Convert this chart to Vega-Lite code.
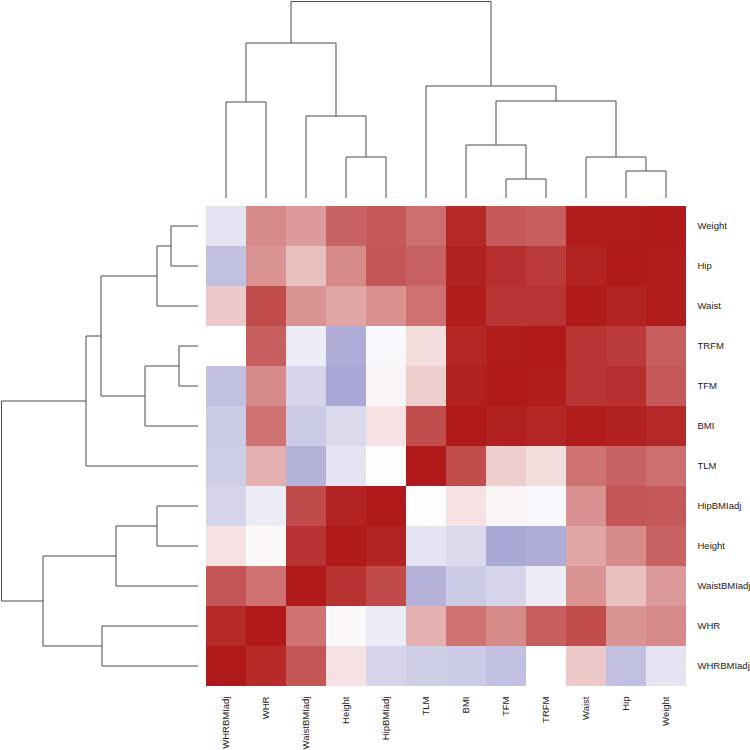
{
  "$schema": "https://vega.github.io/schema/vega-lite/v6.json",
  "padding": 0,
  "columns": 2,
  "spacing": 7,
  "config": {"view": {"stroke": null}},
  "datasets": {
    "tree": [
      {"node": "A", "pl": 0.5, "pr": 1.5, "hl": 0, "hr": 0, "h": 96},
      {"node": "B", "pl": 3.5, "pr": 4.5, "hl": 0, "hr": 0, "h": 41},
      {"node": "C", "pl": 2.5, "pr": 4.0, "hl": 0, "hr": 41, "h": 82},
      {"node": "D", "pl": 1.0, "pr": 3.25, "hl": 96, "hr": 82, "h": 155},
      {"node": "E", "pl": 7.5, "pr": 8.5, "hl": 0, "hr": 0, "h": 19},
      {"node": "F", "pl": 6.5, "pr": 8.0, "hl": 0, "hr": 19, "h": 53},
      {"node": "G", "pl": 10.5, "pr": 11.5, "hl": 0, "hr": 0, "h": 27},
      {"node": "H", "pl": 9.5, "pr": 11.0, "hl": 0, "hr": 27, "h": 41},
      {"node": "I", "pl": 7.25, "pr": 10.25, "hl": 53, "hr": 41, "h": 97},
      {"node": "J", "pl": 5.5, "pr": 8.75, "hl": 0, "hr": 97, "h": 112},
      {"node": "R", "pl": 2.125, "pr": 7.125, "hl": 155, "hr": 112, "h": 196.5}
    ],
    "corr": [
      {"r": "Weight", "c": "WHRBMIadj", "v": -0.16}, {"r": "Weight", "c": "WHR", "v": 0.51}, {"r": "Weight", "c": "WaistBMIadj", "v": 0.44}, {"r": "Weight", "c": "Height", "v": 0.68}, {"r": "Weight", "c": "HipBMIadj", "v": 0.73}, {"r": "Weight", "c": "TLM", "v": 0.63}, {"r": "Weight", "c": "BMI", "v": 0.94}, {"r": "Weight", "c": "TFM", "v": 0.72}, {"r": "Weight", "c": "TRFM", "v": 0.70}, {"r": "Weight", "c": "Waist", "v": 0.99}, {"r": "Weight", "c": "Hip", "v": 0.99}, {"r": "Weight", "c": "Weight", "v": 1},
      {"r": "Hip", "c": "WHRBMIadj", "v": -0.37}, {"r": "Hip", "c": "WHR", "v": 0.47}, {"r": "Hip", "c": "WaistBMIadj", "v": 0.275}, {"r": "Hip", "c": "Height", "v": 0.51}, {"r": "Hip", "c": "HipBMIadj", "v": 0.74}, {"r": "Hip", "c": "TLM", "v": 0.69}, {"r": "Hip", "c": "BMI", "v": 0.965}, {"r": "Hip", "c": "TFM", "v": 0.91}, {"r": "Hip", "c": "TRFM", "v": 0.86}, {"r": "Hip", "c": "Waist", "v": 0.96}, {"r": "Hip", "c": "Hip", "v": 1}, {"r": "Hip", "c": "Weight", "v": 0.99},
      {"r": "Waist", "c": "WHRBMIadj", "v": 0.24}, {"r": "Waist", "c": "WHR", "v": 0.78}, {"r": "Waist", "c": "WaistBMIadj", "v": 0.47}, {"r": "Waist", "c": "Height", "v": 0.39}, {"r": "Waist", "c": "HipBMIadj", "v": 0.48}, {"r": "Waist", "c": "TLM", "v": 0.62}, {"r": "Waist", "c": "BMI", "v": 0.99}, {"r": "Waist", "c": "TFM", "v": 0.88}, {"r": "Waist", "c": "TRFM", "v": 0.88}, {"r": "Waist", "c": "Waist", "v": 1}, {"r": "Waist", "c": "Hip", "v": 0.96}, {"r": "Waist", "c": "Weight", "v": 0.99},
      {"r": "TRFM", "c": "WHRBMIadj", "v": 0.0}, {"r": "TRFM", "c": "WHR", "v": 0.70}, {"r": "TRFM", "c": "WaistBMIadj", "v": -0.11}, {"r": "TRFM", "c": "Height", "v": -0.47}, {"r": "TRFM", "c": "HipBMIadj", "v": -0.04}, {"r": "TRFM", "c": "TLM", "v": 0.15}, {"r": "TRFM", "c": "BMI", "v": 0.95}, {"r": "TRFM", "c": "TFM", "v": 0.99}, {"r": "TRFM", "c": "TRFM", "v": 1}, {"r": "TRFM", "c": "Waist", "v": 0.88}, {"r": "TRFM", "c": "Hip", "v": 0.86}, {"r": "TRFM", "c": "Weight", "v": 0.70},
      {"r": "TFM", "c": "WHRBMIadj", "v": -0.36}, {"r": "TFM", "c": "WHR", "v": 0.51}, {"r": "TFM", "c": "WaistBMIadj", "v": -0.25}, {"r": "TFM", "c": "Height", "v": -0.5}, {"r": "TFM", "c": "HipBMIadj", "v": 0.05}, {"r": "TFM", "c": "TLM", "v": 0.22}, {"r": "TFM", "c": "BMI", "v": 0.97}, {"r": "TFM", "c": "TFM", "v": 1}, {"r": "TFM", "c": "TRFM", "v": 0.99}, {"r": "TFM", "c": "Waist", "v": 0.88}, {"r": "TFM", "c": "Hip", "v": 0.91}, {"r": "TFM", "c": "Weight", "v": 0.72},
      {"r": "BMI", "c": "WHRBMIadj", "v": -0.30}, {"r": "BMI", "c": "WHR", "v": 0.61}, {"r": "BMI", "c": "WaistBMIadj", "v": -0.30}, {"r": "BMI", "c": "Height", "v": -0.21}, {"r": "BMI", "c": "HipBMIadj", "v": 0.13}, {"r": "BMI", "c": "TLM", "v": 0.78}, {"r": "BMI", "c": "BMI", "v": 1}, {"r": "BMI", "c": "TFM", "v": 0.97}, {"r": "BMI", "c": "TRFM", "v": 0.95}, {"r": "BMI", "c": "Waist", "v": 0.99}, {"r": "BMI", "c": "Hip", "v": 0.965}, {"r": "BMI", "c": "Weight", "v": 0.94},
      {"r": "TLM", "c": "WHRBMIadj", "v": -0.28}, {"r": "TLM", "c": "WHR", "v": 0.345}, {"r": "TLM", "c": "WaistBMIadj", "v": -0.44}, {"r": "TLM", "c": "Height", "v": -0.16}, {"r": "TLM", "c": "HipBMIadj", "v": 0.01}, {"r": "TLM", "c": "TLM", "v": 1}, {"r": "TLM", "c": "BMI", "v": 0.78}, {"r": "TLM", "c": "TFM", "v": 0.22}, {"r": "TLM", "c": "TRFM", "v": 0.15}, {"r": "TLM", "c": "Waist", "v": 0.62}, {"r": "TLM", "c": "Hip", "v": 0.69}, {"r": "TLM", "c": "Weight", "v": 0.63},
      {"r": "HipBMIadj", "c": "WHRBMIadj", "v": -0.25}, {"r": "HipBMIadj", "c": "WHR", "v": -0.11}, {"r": "HipBMIadj", "c": "WaistBMIadj", "v": 0.79}, {"r": "HipBMIadj", "c": "Height", "v": 0.96}, {"r": "HipBMIadj", "c": "HipBMIadj", "v": 1}, {"r": "HipBMIadj", "c": "TLM", "v": 0.01}, {"r": "HipBMIadj", "c": "BMI", "v": 0.13}, {"r": "HipBMIadj", "c": "TFM", "v": 0.05}, {"r": "HipBMIadj", "c": "TRFM", "v": -0.04}, {"r": "HipBMIadj", "c": "Waist", "v": 0.48}, {"r": "HipBMIadj", "c": "Hip", "v": 0.74}, {"r": "HipBMIadj", "c": "Weight", "v": 0.73},
      {"r": "Height", "c": "WHRBMIadj", "v": 0.13}, {"r": "Height", "c": "WHR", "v": 0.025}, {"r": "Height", "c": "WaistBMIadj", "v": 0.89}, {"r": "Height", "c": "Height", "v": 1}, {"r": "Height", "c": "HipBMIadj", "v": 0.96}, {"r": "Height", "c": "TLM", "v": -0.16}, {"r": "Height", "c": "BMI", "v": -0.21}, {"r": "Height", "c": "TFM", "v": -0.5}, {"r": "Height", "c": "TRFM", "v": -0.47}, {"r": "Height", "c": "Waist", "v": 0.39}, {"r": "Height", "c": "Hip", "v": 0.51}, {"r": "Height", "c": "Weight", "v": 0.68},
      {"r": "WaistBMIadj", "c": "WHRBMIadj", "v": 0.74}, {"r": "WaistBMIadj", "c": "WHR", "v": 0.61}, {"r": "WaistBMIadj", "c": "WaistBMIadj", "v": 1}, {"r": "WaistBMIadj", "c": "Height", "v": 0.89}, {"r": "WaistBMIadj", "c": "HipBMIadj", "v": 0.79}, {"r": "WaistBMIadj", "c": "TLM", "v": -0.44}, {"r": "WaistBMIadj", "c": "BMI", "v": -0.30}, {"r": "WaistBMIadj", "c": "TFM", "v": -0.25}, {"r": "WaistBMIadj", "c": "TRFM", "v": -0.11}, {"r": "WaistBMIadj", "c": "Waist", "v": 0.47}, {"r": "WaistBMIadj", "c": "Hip", "v": 0.275}, {"r": "WaistBMIadj", "c": "Weight", "v": 0.44},
      {"r": "WHR", "c": "WHRBMIadj", "v": 0.93}, {"r": "WHR", "c": "WHR", "v": 1}, {"r": "WHR", "c": "WaistBMIadj", "v": 0.61}, {"r": "WHR", "c": "Height", "v": 0.025}, {"r": "WHR", "c": "HipBMIadj", "v": -0.11}, {"r": "WHR", "c": "TLM", "v": 0.345}, {"r": "WHR", "c": "BMI", "v": 0.61}, {"r": "WHR", "c": "TFM", "v": 0.51}, {"r": "WHR", "c": "TRFM", "v": 0.70}, {"r": "WHR", "c": "Waist", "v": 0.78}, {"r": "WHR", "c": "Hip", "v": 0.47}, {"r": "WHR", "c": "Weight", "v": 0.51},
      {"r": "WHRBMIadj", "c": "WHRBMIadj", "v": 1}, {"r": "WHRBMIadj", "c": "WHR", "v": 0.93}, {"r": "WHRBMIadj", "c": "WaistBMIadj", "v": 0.74}, {"r": "WHRBMIadj", "c": "Height", "v": 0.13}, {"r": "WHRBMIadj", "c": "HipBMIadj", "v": -0.25}, {"r": "WHRBMIadj", "c": "TLM", "v": -0.28}, {"r": "WHRBMIadj", "c": "BMI", "v": -0.30}, {"r": "WHRBMIadj", "c": "TFM", "v": -0.36}, {"r": "WHRBMIadj", "c": "TRFM", "v": 0.0}, {"r": "WHRBMIadj", "c": "Waist", "v": 0.24}, {"r": "WHRBMIadj", "c": "Hip", "v": -0.37}, {"r": "WHRBMIadj", "c": "Weight", "v": -0.16}
    ]
  },
  "concat": [
    {
      "width": 197,
      "height": 197,
      "data": {"values": [{"a": 1}]},
      "mark": {"type": "text", "text": ""},
      "encoding": {}
    },
    {
      "width": 480,
      "height": 197,
      "data": {"name": "tree"},
      "layer": [
        {
          "mark": {"type": "rule", "color": "#4a4a4a", "strokeWidth": 1},
          "encoding": {
            "x": {"field": "pl", "type": "quantitative", "scale": {"domain": [0, 12], "nice": false, "zero": false}, "axis": null},
            "x2": {"field": "pr"},
            "y": {"field": "h", "type": "quantitative", "scale": {"domain": [0, 197], "nice": false}, "axis": null}
          }
        },
        {
          "mark": {"type": "rule", "color": "#4a4a4a", "strokeWidth": 1},
          "encoding": {
            "x": {"field": "pl", "type": "quantitative"},
            "y": {"field": "hl", "type": "quantitative"},
            "y2": {"field": "h"}
          }
        },
        {
          "mark": {"type": "rule", "color": "#4a4a4a", "strokeWidth": 1},
          "encoding": {
            "x": {"field": "pr", "type": "quantitative"},
            "y": {"field": "hr", "type": "quantitative"},
            "y2": {"field": "h"}
          }
        }
      ]
    },
    {
      "width": 197,
      "height": 480,
      "data": {"name": "tree"},
      "layer": [
        {
          "mark": {"type": "rule", "color": "#4a4a4a", "strokeWidth": 1},
          "encoding": {
            "y": {"field": "pl", "type": "quantitative", "scale": {"domain": [0, 12], "nice": false, "zero": false}, "axis": null},
            "y2": {"field": "pr"},
            "x": {"field": "h", "type": "quantitative", "scale": {"domain": [0, 197], "nice": false, "reverse": true}, "axis": null}
          }
        },
        {
          "mark": {"type": "rule", "color": "#4a4a4a", "strokeWidth": 1},
          "encoding": {
            "y": {"field": "pl", "type": "quantitative"},
            "x": {"field": "hl", "type": "quantitative"},
            "x2": {"field": "h"}
          }
        },
        {
          "mark": {"type": "rule", "color": "#4a4a4a", "strokeWidth": 1},
          "encoding": {
            "y": {"field": "pr", "type": "quantitative"},
            "x": {"field": "hr", "type": "quantitative"},
            "x2": {"field": "h"}
          }
        }
      ]
    },
    {
      "width": 480,
      "height": 480,
      "data": {"name": "corr"},
      "mark": {"type": "rect"},
      "encoding": {
        "x": {
          "field": "c", "type": "nominal",
          "sort": ["WHRBMIadj", "WHR", "WaistBMIadj", "Height", "HipBMIadj", "TLM", "BMI", "TFM", "TRFM", "Waist", "Hip", "Weight"],
          "axis": {"orient": "bottom", "title": null, "labelAngle": -90, "ticks": false, "domain": false, "labelPadding": 10, "labelFont": "Liberation Sans", "labelFontSize": 9.5, "labelColor": "#222222"}
        },
        "y": {
          "field": "r", "type": "nominal",
          "sort": ["Weight", "Hip", "Waist", "TRFM", "TFM", "BMI", "TLM", "HipBMIadj", "Height", "WaistBMIadj", "WHR", "WHRBMIadj"],
          "axis": {"orient": "right", "title": null, "ticks": false, "domain": false, "labelPadding": 11, "labelFont": "Liberation Sans", "labelFontSize": 9.5, "labelColor": "#222222"}
        },
        "color": {
          "field": "v", "type": "quantitative",
          "scale": {"domain": [-1, 0, 1], "range": ["#5551a9", "#ffffff", "#b01a1a"], "interpolate": "rgb"},
          "legend": null
        }
      }
    }
  ]
}
